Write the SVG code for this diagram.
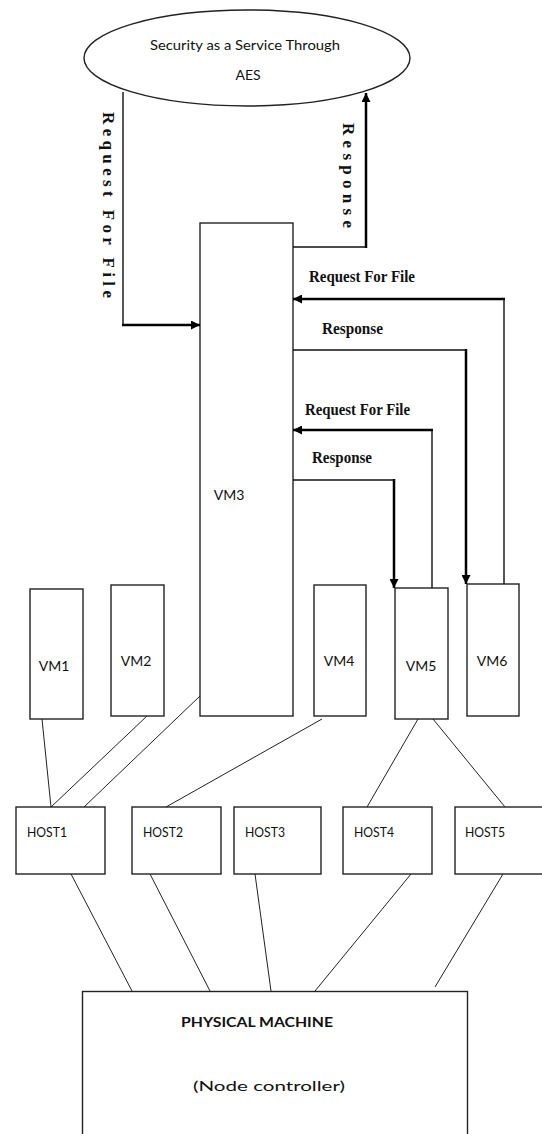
<svg xmlns="http://www.w3.org/2000/svg" width="542" height="1134" viewBox="0 0 542 1134">
<style>
.box{fill:#fff;stroke:#222;stroke-width:1.4}
.lbl{font-family:Lato,"Liberation Sans",sans-serif;font-size:14px;fill:#111}
.host{font-family:Lato,"Liberation Sans",sans-serif;font-size:13px;fill:#111}
.ser{font-family:"Liberation Serif",serif;font-weight:bold;font-size:17px;fill:#111}
.thin{fill:none;stroke:#111;stroke-width:1.4}
.thick{fill:none;stroke:#000;stroke-width:2.5}
.link{fill:none;stroke:#222;stroke-width:1}
</style>
<defs>
<marker id="arr" markerUnits="userSpaceOnUse" markerWidth="10" markerHeight="9" viewBox="0 0 10 10" refX="10" refY="5" orient="auto">
<path d="M0,0 L10,5 L0,10 z" fill="#000"/>
</marker>
</defs>
<rect width="542" height="1134" fill="#fff"/>

<g id="aes">
<ellipse cx="247" cy="58" rx="163" ry="48" class="box" stroke-width="1.2"/>
<text x="245" y="50" class="lbl" text-anchor="middle" textLength="190" lengthAdjust="spacingAndGlyphs">Security as a Service Through</text>
<text x="248" y="80" class="lbl" text-anchor="middle">AES</text>
</g>

<g id="vm1"><rect x="30" y="589" width="53" height="130" class="box"/><text x="54" y="671" class="lbl" text-anchor="middle">VM1</text></g>
<g id="vm2"><rect x="111" y="585" width="53" height="131" class="box"/><text x="136" y="666" class="lbl" text-anchor="middle">VM2</text></g>
<g id="vm3"><rect x="200" y="223" width="93" height="493" class="box"/><text x="229" y="500" class="lbl" font-size="16" text-anchor="middle">VM3</text></g>
<g id="vm4"><rect x="314" y="585" width="52" height="131" class="box"/><text x="339" y="666" class="lbl" text-anchor="middle">VM4</text></g>
<g id="vm5"><rect x="395" y="588" width="53" height="131" class="box"/><text x="421" y="671" class="lbl" text-anchor="middle">VM5</text></g>
<g id="vm6"><rect x="467" y="584" width="52" height="132" class="box"/><text x="492" y="666" class="lbl" text-anchor="middle">VM6</text></g>

<g id="host1"><rect x="16" y="807" width="89" height="67" class="box"/><text x="27" y="837" class="host" textLength="40" lengthAdjust="spacingAndGlyphs">HOST1</text></g>
<g id="host2"><rect x="132" y="807" width="89" height="67" class="box"/><text x="143" y="837" class="host" textLength="40" lengthAdjust="spacingAndGlyphs">HOST2</text></g>
<g id="host3"><rect x="234" y="807" width="87" height="67" class="box"/><text x="245" y="837" class="host" textLength="40" lengthAdjust="spacingAndGlyphs">HOST3</text></g>
<g id="host4"><rect x="343" y="807" width="89" height="67" class="box"/><text x="354" y="837" class="host" textLength="40" lengthAdjust="spacingAndGlyphs">HOST4</text></g>
<g id="host5"><rect x="455" y="807" width="89" height="67" class="box"/><text x="465" y="837" class="host" textLength="40" lengthAdjust="spacingAndGlyphs">HOST5</text></g>

<g id="physical">
<rect x="82.5" y="991.5" width="385" height="160" class="box"/>
<text x="257" y="1027" class="lbl" font-size="16" font-weight="bold" text-anchor="middle" textLength="152" lengthAdjust="spacingAndGlyphs">PHYSICAL MACHINE</text>
<text x="269" y="1091" class="lbl" font-size="19" text-anchor="middle" textLength="152" lengthAdjust="spacingAndGlyphs">(Node controller)</text>
</g>

<g id="connectors">
<path d="M123,92 V325" class="thin"/>
<path d="M122,325 H200" class="thick" marker-end="url(#arr)"/>
<path d="M293,247 H366" class="thin"/>
<path d="M366,248 V93" class="thick" stroke-width="2" marker-end="url(#arr)"/>
<path d="M504,584 V299" class="thin"/>
<path d="M505,299 H293" class="thick" marker-end="url(#arr)"/>
<path d="M293,350 H466" class="thin"/>
<path d="M466,349 V584" class="thick" stroke-width="2" marker-end="url(#arr)"/>
<path d="M432,588 V430" class="thin"/>
<path d="M433,430 H293" class="thick" marker-end="url(#arr)"/>
<path d="M293,480 H394" class="thin"/>
<path d="M394,479 V588" class="thick" stroke-width="2" marker-end="url(#arr)"/>
<path d="M42,719 L51,807" class="link"/>
<path d="M147,716 L51,807" class="link"/>
<path d="M200,696 L84,807" class="link"/>
<path d="M322,719 L166,807" class="link"/>
<path d="M418,719 L367,807" class="link"/>
<path d="M433,719 L505,807" class="link"/>
<path d="M71,874 L132,991" class="link"/>
<path d="M150,874 L210,991" class="link"/>
<path d="M255,874 L271,991" class="link"/>
<path d="M411,874 L315,991" class="link"/>
<path d="M503,874 L435,987" class="link" stroke-width="2" stroke="#000"/>
</g>

<g id="labels">
<text x="103" y="112" class="ser" transform="rotate(90 103 112)" textLength="186" lengthAdjust="spacing">Request For File</text>
<text x="343" y="123" class="ser" transform="rotate(90 343 123)" textLength="105" lengthAdjust="spacing">Response</text>
<text x="309" y="282" class="ser" font-size="19" textLength="106" lengthAdjust="spacingAndGlyphs">Request For File</text>
<text x="322" y="334" class="ser" font-size="19" textLength="61" lengthAdjust="spacingAndGlyphs">Response</text>
<text x="305" y="415" class="ser" font-size="19" textLength="105" lengthAdjust="spacingAndGlyphs">Request For File</text>
<text x="312" y="463" class="ser" font-size="19" textLength="60" lengthAdjust="spacingAndGlyphs">Response</text>
</g>
</svg>
